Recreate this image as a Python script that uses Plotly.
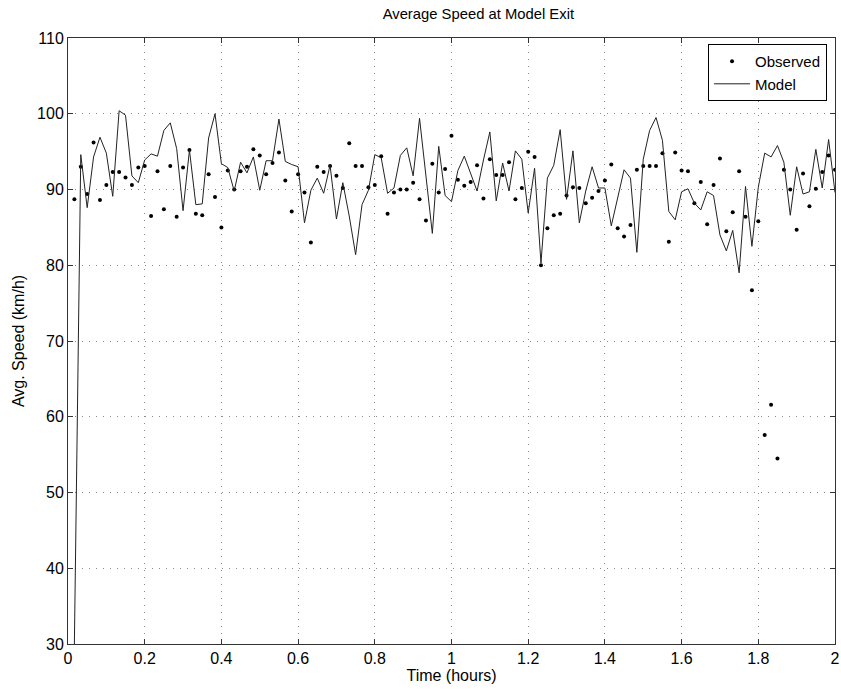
import plotly.graph_objects as go

# sample index in minutes (one sample per minute, 120 samples over 2 hours)
minutes = list(range(1, 121))
time_hours = [m / 60 for m in minutes]

observed_speed = [
    88.7, 93.0, 89.4, 96.2, 88.6, 90.6, 92.3, 92.3, 91.6, 90.6,
    92.9, 93.1, 86.5, 92.4, 87.4, 93.1, 86.4, 92.9, 95.2, 86.8,
    86.6, 92.0, 89.0, 85.0, 92.5, 90.0, 92.4, 93.0, 95.3, 94.5,
    92.0, 93.5, 94.9, 91.2, 87.1, 92.0, 89.6, 83.0, 93.0, 92.3,
    93.1, 91.8, 90.2, 96.1, 93.1, 93.1, 90.3, 90.6, 94.4, 86.8,
    89.6, 90.0, 90.0, 90.9, 88.7, 85.9, 93.4, 89.6, 92.7, 97.1,
    91.3, 90.5, 91.0, 93.2, 88.8, 94.0, 91.9, 91.9, 93.6, 88.7,
    90.2, 95.0, 94.3, 80.0, 84.9, 86.6, 86.8, 89.2, 90.3, 90.2,
    88.2, 88.9, 89.8, 91.2, 93.3, 84.9, 83.8, 85.3, 92.6, 93.1,
    93.1, 93.1, 94.8, 83.1, 94.9, 92.5, 92.4, 88.2, 91.0, 85.4,
    90.6, 94.1, 84.5, 87.0, 92.4, 86.4, 76.7, 85.8, 57.6, 61.6,
    54.5, 92.6, 90.0, 84.7, 92.1, 87.8, 90.1, 92.3, 94.5, 92.6,
]

model_speed = [
    30.0, 94.6, 87.6, 94.3, 96.9, 94.8, 89.1, 100.4, 99.8, 91.8,
    90.9, 93.9, 94.7, 94.4, 97.8, 98.8, 95.4, 87.2, 95.2, 88.0,
    88.1, 96.8, 100.0, 93.4, 92.9, 89.8, 93.6, 92.2, 94.3, 89.9,
    93.8, 93.8, 99.3, 93.7, 93.3, 93.0, 85.6, 89.9, 91.5, 89.5,
    93.2, 86.1, 90.9, 86.5, 81.4, 88.0, 89.9, 94.6, 94.2, 89.5,
    90.2, 94.5, 95.5, 91.8, 99.4, 91.7, 84.2, 95.7, 89.2, 88.4,
    92.5, 94.4, 92.2, 89.8, 93.9, 97.6, 88.5, 93.5, 89.8, 95.1,
    94.0, 86.9, 92.8, 80.3, 91.5, 93.2, 97.9, 88.7, 95.1, 85.6,
    89.8, 93.0, 90.2, 90.2, 85.2, 88.9, 92.6, 91.5, 81.7, 94.0,
    97.8, 99.5, 96.5, 87.1, 86.0, 89.7, 90.1, 88.2, 87.3, 89.7,
    89.2, 84.0, 81.9, 84.6, 79.0, 90.4, 82.5, 90.3, 94.8, 94.3,
    95.8, 93.6, 86.6, 93.0, 89.4, 89.7, 95.3, 90.2, 96.6, 89.6,
]

FONT = "Liberation Sans, Arial, Helvetica, sans-serif"

fig = go.Figure()
fig.add_trace(go.Scatter(
    x=time_hours, y=observed_speed, mode="markers", name="Observed",
    marker=dict(color="black", size=4),
))
fig.add_trace(go.Scatter(
    x=time_hours, y=model_speed, mode="lines", name="Model",
    line=dict(color="#222222", width=1),
))

axis_common = dict(
    showline=True, linecolor="#333333", linewidth=1, mirror="ticks",
    ticks="inside", ticklen=5, tickcolor="#333333",
    showgrid=True, gridcolor="#8a8a8a", griddash="1px,6px", gridwidth=1,
    zeroline=False, tickfont=dict(size=16, color="black", family=FONT),
    automargin=False, ticklabeloverflow="allow",
)

fig.update_xaxes(range=[0, 2], dtick=0.2, tick0=0,
                 title=dict(text="Time (hours)", font=dict(size=16, family=FONT), standoff=2),
                 **axis_common)
fig.update_yaxes(range=[30, 110], dtick=10, tick0=30,
                 title=dict(text="Avg. Speed (km/h)", font=dict(size=16, family=FONT), standoff=8),
                 **axis_common)

fig.update_layout(
    width=841, height=692,
    margin=dict(l=68, r=6, t=38, b=48),
    plot_bgcolor="white", paper_bgcolor="white",
    font=dict(family=FONT, size=16, color="black"),
    title=dict(text="Average Speed at Model Exit", x=0.535, xref="paper", xanchor="center",
               y=1 - 14 / 692, yref="container", yanchor="middle",
               font=dict(size=14.8, family=FONT, color="black")),
    legend=dict(x=0.9896, y=0.99, xanchor="right", yanchor="top",
                bgcolor="white", bordercolor="black", borderwidth=1,
                font=dict(size=15, family=FONT), tracegroupgap=0,
                itemwidth=36),
    showlegend=True,
)

fig.write_html("out.html",
               config={"displayModeBar": False},
               post_script="document.body.style.margin='0';document.body.style.overflow='hidden';")
